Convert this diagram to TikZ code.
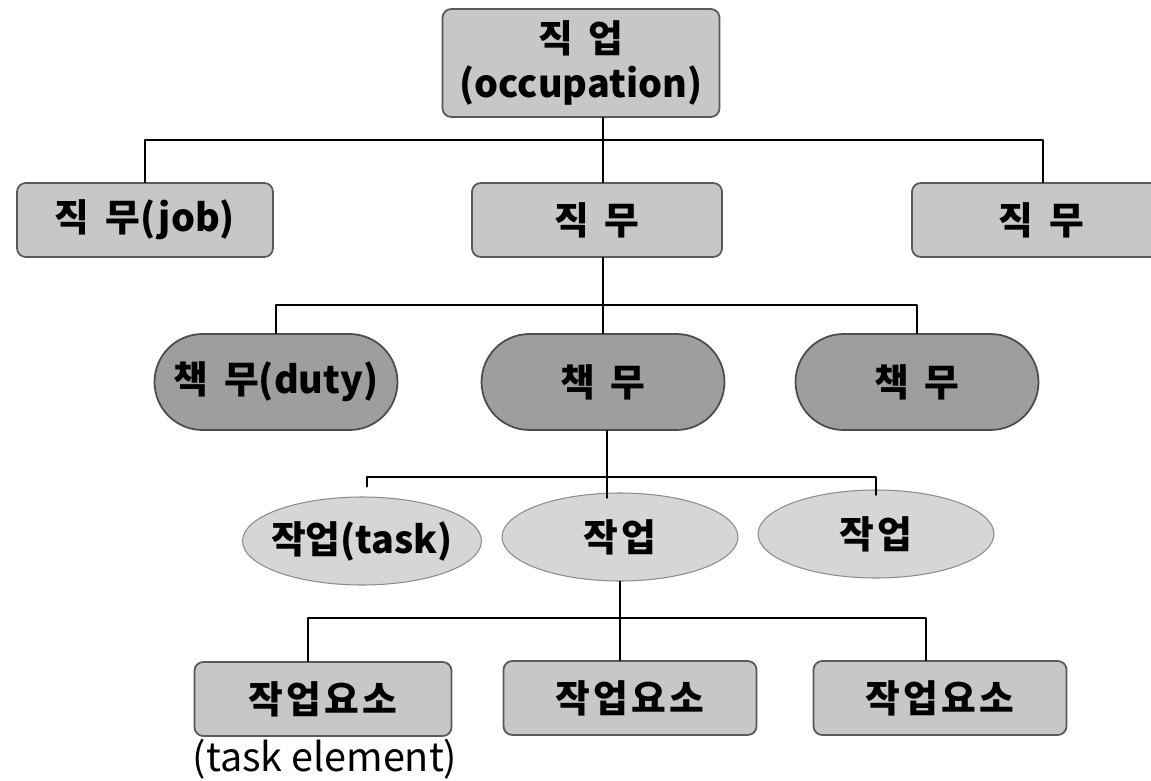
\documentclass[tikz,border=0pt]{standalone}
\usepackage{fontspec}
\newfontfamily\kr{Noto Sans CJK KR}
\newfontfamily\krwide[LetterSpace=9]{Noto Sans CJK KR}
\usetikzlibrary{shapes.misc,shapes.geometric}
\newcommand{\krgap}{\hspace{0.42em}}

\begin{document}
\begin{tikzpicture}[line cap=round,line join=round,x=0.02cm,y=-0.02cm,
  every node/.style={font=\kr\bfseries\fontsize{21.5}{24}\selectfont,inner sep=0pt},
  jobbox/.style={draw=black!65,line width=1pt,fill=black!22,rounded corners=5pt,minimum width={0.02cm*#1},minimum height=1.48cm},
  dutypill/.style={draw=black!70,line width=1pt,fill=black!38,rounded rectangle,minimum width=4.86cm,minimum height=1.92cm},
  taskoval/.style={draw=black!45,line width=0.6pt,fill=black!16,ellipse,minimum width=4.72cm,minimum height=1.76cm},
  widetext/.style={font=\krwide\bfseries\fontsize{21.5}{24}\selectfont},
  link/.style={line width=1.2pt}]
  \clip (0,0) rectangle (1151,780);
  \useasboundingbox (0,0) rectangle (1151,780);
  \node [jobbox=277,minimum height=2.16cm,align=center] (occ) at (581,63) {직\krgap 업\\[2pt](occupation)};
  \node [jobbox=256] (job1) at (145,220) {직\krgap 무(job)};
  \node [jobbox=250] (job2) at (597,220) {직\krgap 무};
  \node [jobbox=262] (job3) at (1043,220) {\hspace*{-2pt}직\krgap 무};
  \node [dutypill] (duty1) at (276,382) {책\krgap 무(duty)};
  \node [dutypill] (duty2) at (603,382) {책\krgap 무};
  \node [dutypill] (duty3) at (917,382) {책\krgap 무};
  \node [taskoval,minimum width=4.78cm,inner xsep=-7pt] (task1) at (362,541) {작업(task)};
  \node [taskoval,widetext] (task2) at (620,537) {작업};
  \node [taskoval,widetext] (task3) at (876,534) {작업};
  \node [jobbox=257,widetext] (elem1) at (323,699) {작업요소};
  \node [jobbox=253,widetext] (elem2) at (630,698) {작업요소};
  \node [jobbox=253,widetext] (elem3) at (940,698) {작업요소};
  \node [font=\kr\fontsize{22.5}{24}\selectfont] (elemnote) at (325,759) {(task element)};
  \coordinate (bus1) at (603,140);
  \coordinate (bus2) at (603,305);
  \coordinate (bus3) at (607,477);
  \coordinate (bus4) at (620,618);
  \draw [link] (occ.south -| bus1) -- (bus1);
  \draw [link] (job1.north) |- (bus1) -| (job3.north);
  \draw [link] (bus1) -- (bus1 |- job2.north);
  \draw [link] (job2.south -| bus2) -- (bus2);
  \draw [link] (duty1.north) |- (bus2) -| (duty3.north);
  \draw [link] (bus2) -- (bus2 |- duty2.north);
  \draw [link] (duty2.south -| bus3) -- (bus3);
  \draw [link] (task1.north) ++(5,-10) |- (bus3) -| ([yshift=-3]task3.north);
  \draw [link] (bus3) -- ([yshift=-3]bus3 |- task2.north);
  \draw [link] (task2.south) -- (bus4);
  \draw [link] (elem1.north) ++(-15,0) |- (bus4) -| ([xshift=-8]elem3.north);
  \draw [link] (bus4) -- (bus4 |- elem2.north);
\end{tikzpicture}
\end{document}
